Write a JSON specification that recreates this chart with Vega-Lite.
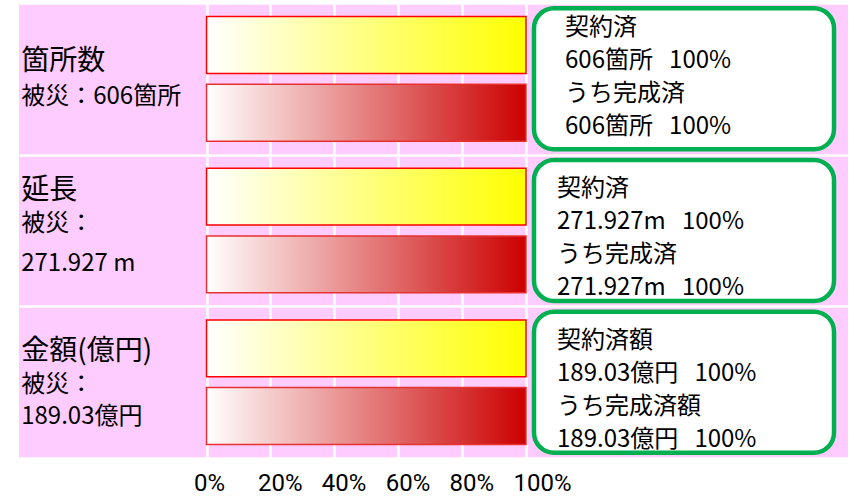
{
  "$schema": "https://vega.github.io/schema/vega-lite/v6.json",
  "width": 829,
  "height": 455,
  "autosize": {"type": "none"},
  "padding": {"left": 19, "top": 3, "right": 9, "bottom": 40},
  "background": "white",
  "config": {
    "view": {"fill": "#ffccff", "stroke": null},
    "font": "Noto Sans CJK JP",
    "text": {"font": "Noto Sans CJK JP", "color": "black", "lineBreak": "\n"}
  },
  "datasets": {
    "bars": [
      {"cat": "箇所数", "series": "契約済", "pct": 100},
      {"cat": "箇所数", "series": "完成済", "pct": 100},
      {"cat": "延長", "series": "契約済", "pct": 100},
      {"cat": "延長", "series": "完成済", "pct": 100},
      {"cat": "金額", "series": "契約済", "pct": 100},
      {"cat": "金額", "series": "完成済", "pct": 100}
    ],
    "rows": [
      {"cat": "箇所数", "title": "箇所数", "sub": "被災：606箇所", "box": "契約済\n606箇所\u00a0\u00a0\u00a0100%\nうち完成済\n606箇所\u00a0\u00a0\u00a0100%"},
      {"cat": "延長", "title": "延長", "sub": "被災：\n271.927 m", "box": "契約済\n271.927m\u00a0\u00a0\u00a0100%\nうち完成済\n271.927m\u00a0\u00a0\u00a0100%"},
      {"cat": "金額", "title": "金額(億円)", "sub": "被災：\n189.03億円", "box": "契約済額\n189.03億円\u00a0\u00a0\u00a0100%\nうち完成済額\n189.03億円\u00a0\u00a0\u00a0100%"}
    ]
  },
  "encoding": {
    "y": {
      "field": "cat",
      "type": "nominal",
      "title": null,
      "scale": {"domain": ["箇所数", "延長", "金額"], "paddingInner": 0, "paddingOuter": 0},
      "axis": {"title": null, "labels": false, "ticks": false, "domain": false, "grid": true, "gridColor": "white", "gridWidth": 2.5, "gridOpacity": 1, "tickBand": "extent"}
    }
  },
  "layer": [
    {
      "data": {"name": "bars"},
      "transform": [{"filter": "datum.series === '契約済'"}],
      "mark": {
        "type": "bar",
        "stroke": "#ff0000",
        "strokeWidth": 1.5,
        "color": {"gradient": "linear", "x1": 0, "x2": 1, "y1": 0, "y2": 0, "stops": [{"offset": 0, "color": "#ffffff"}, {"offset": 1, "color": "#ffff00"}]}
      },
      "encoding": {
        "x": {
          "field": "pct",
          "type": "quantitative",
          "title": null,
          "scale": {"domain": [-58.69, 200.78], "nice": false, "zero": false},
          "axis": {"title": null, "values": [0, 20, 40, 60, 80, 100], "grid": true, "gridColor": "white", "gridWidth": 2.5, "gridOpacity": 1, "domain": false, "ticks": false, "labelExpr": "datum.value + '%'", "labelFont": "Roboto", "labelFontSize": 24, "labelColor": "black", "labelAlign": "left", "labelOffset": -13, "labelPadding": 13, "labelBaseline": "top", "labelOverlap": false, "labelFlush": false}
        },
        "x2": {"datum": 0},
        "yOffset": {"field": "series", "type": "nominal", "scale": {"domain": ["契約済", "完成済"], "paddingInner": 0.16, "paddingOuter": 0.2}}
      }
    },
    {
      "data": {"name": "bars"},
      "transform": [{"filter": "datum.series === '完成済'"}],
      "mark": {
        "type": "bar",
        "stroke": "#e83030",
        "strokeWidth": 1.5,
        "color": {"gradient": "linear", "x1": 0, "x2": 1, "y1": 0, "y2": 0, "stops": [{"offset": 0, "color": "#ffffff"}, {"offset": 1, "color": "#cc0000"}]}
      },
      "encoding": {
        "x": {"field": "pct", "type": "quantitative", "title": null},
        "x2": {"datum": 0},
        "yOffset": {"field": "series", "type": "nominal"}
      }
    },
    {
      "data": {"name": "rows"},
      "mark": {"type": "bar", "fill": "white", "stroke": "#00b050", "strokeWidth": 4.5, "cornerRadius": 20, "height": {"band": 0.93}},
      "encoding": {
        "x": {"datum": 102.5, "type": "quantitative", "title": null},
        "x2": {"datum": 196.4}
      }
    },
    {
      "data": {"name": "rows"},
      "transform": [{"filter": "datum.cat === '箇所数'"}],
      "mark": {"type": "text", "align": "left", "baseline": "middle", "fontSize": 28, "dy": -17},
      "encoding": {"x": {"datum": -58, "type": "quantitative", "title": null}, "text": {"field": "title"}}
    },
    {
      "data": {"name": "rows"},
      "transform": [{"filter": "datum.cat === '延長'"}],
      "mark": {"type": "text", "align": "left", "baseline": "middle", "fontSize": 28, "dy": -40},
      "encoding": {"x": {"datum": -58, "type": "quantitative", "title": null}, "text": {"field": "title"}}
    },
    {
      "data": {"name": "rows"},
      "transform": [{"filter": "datum.cat === '金額'"}],
      "mark": {"type": "text", "align": "left", "baseline": "middle", "fontSize": 28, "dy": -30},
      "encoding": {"x": {"datum": -58, "type": "quantitative", "title": null}, "text": {"field": "title"}}
    },
    {
      "data": {"name": "rows"},
      "transform": [{"filter": "datum.cat === '箇所数'"}],
      "mark": {"type": "text", "align": "left", "baseline": "middle", "fontSize": 24, "dy": 18},
      "encoding": {"x": {"datum": -58, "type": "quantitative", "title": null}, "text": {"field": "sub"}}
    },
    {
      "data": {"name": "rows"},
      "transform": [{"filter": "datum.cat === '延長'"}],
      "mark": {"type": "text", "align": "left", "baseline": "middle", "fontSize": 24, "dy": -6.5, "lineHeight": 40},
      "encoding": {"x": {"datum": -58, "type": "quantitative", "title": null}, "text": {"field": "sub"}}
    },
    {
      "data": {"name": "rows"},
      "transform": [{"filter": "datum.cat === '金額'"}],
      "mark": {"type": "text", "align": "left", "baseline": "middle", "fontSize": 24, "dy": 3, "lineHeight": 32},
      "encoding": {"x": {"datum": -58, "type": "quantitative", "title": null}, "text": {"field": "sub"}}
    },
    {
      "data": {"name": "rows"},
      "transform": [{"filter": "datum.cat === '箇所数'"}],
      "mark": {"type": "text", "align": "left", "baseline": "middle", "fontSize": 24, "dy": -51, "lineHeight": 33},
      "encoding": {"x": {"datum": 112.2, "type": "quantitative", "title": null}, "text": {"field": "box"}}
    },
    {
      "data": {"name": "rows"},
      "transform": [{"filter": "datum.cat !== '箇所数'"}],
      "mark": {"type": "text", "align": "left", "baseline": "middle", "fontSize": 24, "dy": -41.5, "lineHeight": 33},
      "encoding": {"x": {"datum": 109.7, "type": "quantitative", "title": null}, "text": {"field": "box"}}
    }
  ]
}
